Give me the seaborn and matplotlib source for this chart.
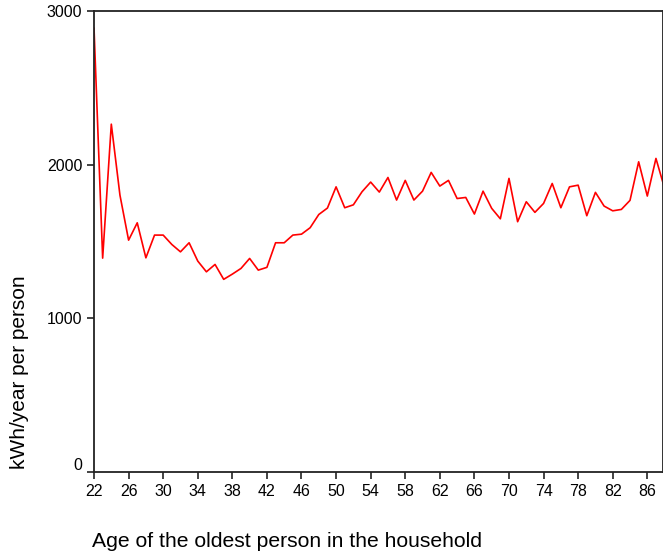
import pandas as pd
import numpy as np
import matplotlib
matplotlib.use('Agg')
import matplotlib.pyplot as plt
import matplotlib.transforms as mtransforms
import seaborn as sns

# age of the oldest person vs consumption per person
ages = list(range(22, 89))
kwh = [2890, 1392, 2264, 1802, 1509, 1622, 1394, 1542, 1542, 1481,
       1433, 1492, 1373, 1303, 1351, 1254, 1288, 1325, 1390, 1314,
       1332, 1492, 1492, 1542, 1548, 1590, 1676, 1718, 1856, 1720,
       1739, 1824, 1887, 1822, 1917, 1770, 1898, 1770, 1828, 1950,
       1861, 1898, 1780, 1787, 1679, 1828, 1716, 1648, 1911, 1629,
       1759, 1690, 1748, 1878, 1720, 1856, 1867, 1668, 1820, 1731,
       1700, 1709, 1768, 2019, 1796, 2041, 1846]
xticks = list(range(22, 87, 4))
yticks = [0, 1000, 2000, 3000]

sns.set_style('ticks')
plt.rcParams['font.family'] = ['Liberation Sans', 'DejaVu Sans']
plt.rcParams['text.color'] = 'black'
plt.rcParams['xtick.color'] = 'black'
plt.rcParams['ytick.color'] = 'black'

df = pd.DataFrame({'age': ages, 'kwh': kwh})

fig = plt.figure(figsize=(6.63, 5.54), dpi=100)
ax = fig.add_axes([0.1418, 0.148, 0.858, 0.832])
sns.lineplot(data=df, x='age', y='kwh', color='red', linewidth=1.2, ax=ax)

ax.set_xlim(22, 87.8)
ax.set_ylim(0, 3000)
ax.set_xticks(xticks)
ax.set_yticks(yticks)
ax.tick_params(labelsize=11.5, length=5, width=1.2, color='#222222')
for s in ax.spines.values():
    s.set_linewidth(1.3)
    s.set_color('#222222')
ax.set_xlabel('')
ax.set_ylabel('')

# the "0" label sits a bit above its tick in the original
lbl0 = ax.get_yticklabels()[0]
lbl0.set_transform(lbl0.get_transform() +
                   mtransforms.ScaledTranslation(0, 8 / 100, fig.dpi_scale_trans))

fig.text(0.030, 0.3285, 'kWh/year per person', rotation=90, fontsize=15,
         ha='center', va='center')
fig.text(0.139, 0.0217, 'Age of the oldest person in the household', fontsize=15.2,
         ha='left', va='center')

plt.savefig('out.png', dpi=100)
